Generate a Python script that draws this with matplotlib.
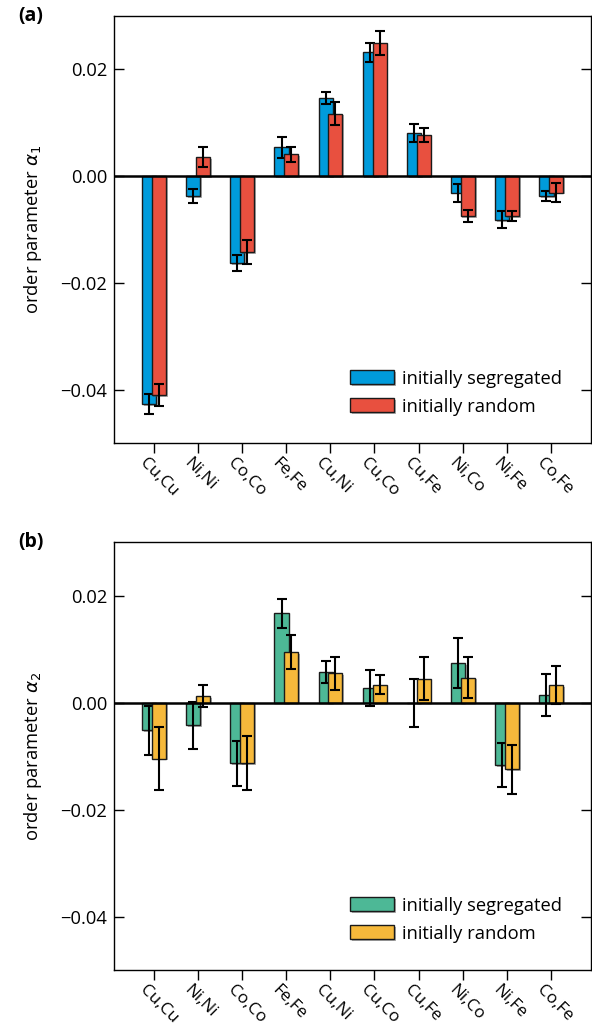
import numpy as np
import matplotlib
matplotlib.use("Agg")
import matplotlib.pyplot as plt
import matplotlib.patheffects as pe
import matplotlib.transforms as mtransforms

plt.rcParams['font.family'] = ['Open Sans', 'DejaVu Sans']
plt.rcParams['mathtext.fontset'] = 'dejavusans'

categories = ["Cu,Cu", "Ni,Ni", "Co,Co", "Fe,Fe", "Cu,Ni", "Cu,Co", "Cu,Fe", "Ni,Co", "Ni,Fe", "Co,Fe"]

a1_seg = [-0.0427, -0.0037, -0.0163, 0.0054, 0.0147, 0.0232, 0.0080, -0.0031, -0.0082, -0.0037]
a1_seg_err = [0.0018, 0.0013, 0.0015, 0.0020, 0.0011, 0.0018, 0.0017, 0.0017, 0.0016, 0.0010]
a1_rand = [-0.0410, 0.0036, -0.0142, 0.0041, 0.0117, 0.0249, 0.0077, -0.0075, -0.0075, -0.0031]
a1_rand_err = [0.0021, 0.0019, 0.0022, 0.0014, 0.0021, 0.0022, 0.0013, 0.0011, 0.0010, 0.0018]

a2_seg = [-0.0052, -0.0042, -0.0113, 0.0167, 0.0057, 0.0027, 0.0000, 0.0074, -0.0117, 0.0014]
a2_seg_err = [0.0046, 0.0044, 0.0042, 0.0027, 0.0021, 0.0034, 0.0045, 0.0047, 0.0041, 0.0039]
a2_rand = [-0.0105, 0.0012, -0.0113, 0.0095, 0.0055, 0.0034, 0.0045, 0.0047, -0.0125, 0.0033]
a2_rand_err = [0.0059, 0.0021, 0.0051, 0.0032, 0.0031, 0.0017, 0.0040, 0.0038, 0.0045, 0.0035]

legend_labels = ["initially segregated", "initially random"]

FS = 13.2

fig = plt.figure(figsize=(5.92, 10.31), dpi=100)
ax1 = fig.add_axes([0.1926, 0.5703, 0.8054, 0.4142])
ax2 = fig.add_axes([0.1926, 0.0592, 0.8054, 0.4148])

shadow = [pe.SimplePatchShadow(offset=(1.2, -1.2), shadow_rgbFace='0.3', alpha=0.45), pe.Normal()]

def panel(ax, seg, seg_err, rand, rand_err, c1, c2, ylabel, tag):
    x = np.arange(len(categories))
    w = 0.32
    b1 = ax.bar(x - 0.105, seg, w, color=c1, edgecolor='#1a1a1a', linewidth=1.0, zorder=2,
                label=legend_labels[0])
    for p in b1:
        p.set_path_effects(shadow)
    ax.errorbar(x - 0.105, seg, yerr=seg_err, fmt='none', ecolor='black', elinewidth=1.5,
                capsize=3.6, capthick=1.5, zorder=3)
    b2 = ax.bar(x + 0.115, rand, w, color=c2, edgecolor='#1a1a1a', linewidth=1.0, zorder=4,
                label=legend_labels[1])
    for p in b2:
        p.set_path_effects(shadow)
    ax.errorbar(x + 0.115, rand, yerr=rand_err, fmt='none', ecolor='black', elinewidth=1.5,
                capsize=3.6, capthick=1.5, zorder=5)
    ax.axhline(0, color='black', linewidth=1.8, zorder=6)
    ax.set_xlim(-0.9, 9.9)
    ax.set_ylim(-0.05, 0.03)
    ax.set_yticks([0.02, 0.00, -0.02, -0.04])
    ax.set_yticklabels(["0.02", "0.00", "\u22120.02", "\u22120.04"])
    ax.tick_params(axis='y', direction='in', length=7, width=1, left=True, right=True,
                   labelsize=FS, pad=5)
    ax.set_xticks(x)
    ax.set_xticklabels(categories, rotation=-45, ha='left', va='top', rotation_mode='anchor')
    ax.tick_params(axis='x', direction='out', length=7, width=1, labelsize=12.3, pad=2)
    for s in ax.spines.values():
        s.set_linewidth(1.0)
    ax.set_ylabel(ylabel, fontsize=FS, labelpad=12)
    ax.legend(loc='lower right', frameon=False, fontsize=FS, handlelength=2.4,
              handleheight=0.8, handletextpad=0.45, labelspacing=0.55,
              bbox_to_anchor=(0.975, 0.025))
    ax.text(-0.2, 1.0, tag, transform=ax.transAxes, fontsize=14, fontweight='bold',
            ha='left', va='center')
    off = mtransforms.ScaledTranslation(-6/100, 0, fig.dpi_scale_trans)
    for lab in ax.get_xticklabels():
        lab.set_transform(lab.get_transform() + off)

panel(ax1, a1_seg, a1_seg_err, a1_rand, a1_rand_err, '#009BDB', '#E8503F',
      r'order parameter $\alpha_1$', '(a)')
panel(ax2, a2_seg, a2_seg_err, a2_rand, a2_rand_err, '#4DB896', '#F6B93B',
      r'order parameter $\alpha_2$', '(b)')

fig.savefig('out.png', dpi=100)
